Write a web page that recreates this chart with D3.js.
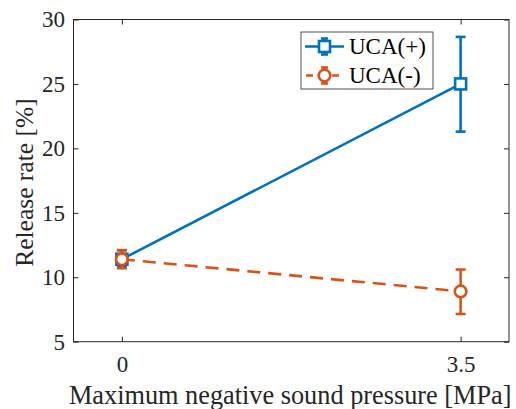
<!DOCTYPE html>
<html><head><meta charset="utf-8">
<script src="https://cdn.jsdelivr.net/npm/d3@7"></script>
<style>body{margin:0;background:#fff}svg{display:block}</style>
</head><body><svg id="c" width="516" height="409"></svg>
<script>
const xValues = [0, 3.5];
const xTickLabels = ["0", "3.5"];
const yTicks = [5, 10, 15, 20, 25, 30];
const seriesNames = ["UCA(+)", "UCA(-)"];
const ucaPlus = [11.4, 25.0];
const ucaPlusLow = [10.8, 21.3];
const ucaPlusHigh = [12.1, 28.65];
const ucaMinus = [11.4, 8.9];
const ucaMinusLow = [10.7, 7.15];
const ucaMinusHigh = [12.1, 10.6];
const xLabel = "Maximum negative sound pressure [MPa]";
const yLabel = "Release rate [%]";

const FONT = '"Liberation Serif", "Times New Roman", "DejaVu Serif", serif';
const svg = d3.select("#c");
const L = 73.5, R = 509, T = 19.5, B = 341.7;
const x = d3.scaleLinear().domain([-0.5, 4]).range([L, R]);
const y = d3.scaleLinear().domain([5, 30]).range([B, T]);
const axisCol = "#262626";
const tickFs = 23, labFs = 26.3, legFs = 23;

// frame
svg.append("rect").attr("x", L).attr("y", T).attr("width", R - L).attr("height", B - T)
  .attr("fill", "none").attr("stroke", axisCol).attr("stroke-width", 1);

// axes with inward ticks
const gx = svg.append("g").attr("transform", `translate(0,${B})`)
  .call(d3.axisBottom(x).tickValues(xValues).tickFormat((d, i) => xTickLabels[i]).tickSizeInner(-5).tickSizeOuter(0).tickPadding(13.5));
const gxt = svg.append("g").attr("transform", `translate(0,${T})`)
  .call(d3.axisTop(x).tickValues(xValues).tickFormat("").tickSizeInner(-5).tickSizeOuter(0));
const gy = svg.append("g").attr("transform", `translate(${L},0)`)
  .call(d3.axisLeft(y).tickValues(yTicks).tickSizeInner(-5).tickSizeOuter(0).tickPadding(8.5));
const gyr = svg.append("g").attr("transform", `translate(${R},0)`)
  .call(d3.axisRight(y).tickValues(yTicks).tickFormat("").tickSizeInner(-5).tickSizeOuter(0));
[gx, gxt, gy, gyr].forEach(g => {
  g.attr("font-family", FONT).attr("font-size", tickFs);
  g.select(".domain").remove();
  g.selectAll("line").attr("stroke", axisCol);
  g.selectAll("text").attr("fill", axisCol).style("font-family", FONT).style("font-size", tickFs + "px");
});

// labels
svg.append("text").attr("x", (L + R) / 2 - 1).attr("y", 404).attr("text-anchor", "middle")
  .style("font-family", FONT).style("font-size", labFs + "px").attr("fill", axisCol).text(xLabel);
svg.append("text").attr("transform", `translate(33,${(T + B) / 2 + 2}) rotate(-90)`).attr("text-anchor", "middle")
  .style("font-family", FONT).style("font-size", "25.5px").attr("fill", axisCol).text(yLabel);

const series = [
  {name: seriesNames[0], v: ucaPlus, lo: ucaPlusLow, hi: ucaPlusHigh, color: "#0072BD", dash: null, marker: "square"},
  {name: seriesNames[1], v: ucaMinus, lo: ucaMinusLow, hi: ucaMinusHigh, color: "#D95319", dash: "13,8", marker: "circle"}
];
const lw = 2.6;
const line = d3.line().x((d, i) => x(xValues[i])).y(d => y(d));

function marker(g, type, cx, cy, color) {
  if (type === "square") {
    g.append("rect").attr("x", cx - 5.5).attr("y", cy - 5.5).attr("width", 11).attr("height", 11)
      .attr("fill", "#fff").attr("stroke", color).attr("stroke-width", lw);
  } else {
    g.append("circle").attr("cx", cx).attr("cy", cy).attr("r", 5.8)
      .attr("fill", "#fff").attr("stroke", color).attr("stroke-width", lw);
  }
}

series.forEach(s => {
  const g = svg.append("g");
  g.append("path").attr("d", line(s.v)).attr("fill", "none").attr("stroke", s.color)
    .attr("stroke-width", lw).attr("stroke-dasharray", s.dash);
  s.v.forEach((v, i) => {
    const cx = x(xValues[i]);
    g.append("line").attr("x1", cx).attr("x2", cx).attr("y1", y(s.lo[i])).attr("y2", y(s.hi[i]))
      .attr("stroke", s.color).attr("stroke-width", lw);
    [s.lo[i], s.hi[i]].forEach(e => g.append("line").attr("x1", cx - 5).attr("x2", cx + 5)
      .attr("y1", y(e)).attr("y2", y(e)).attr("stroke", s.color).attr("stroke-width", lw));
    marker(g, s.marker, cx, y(v), s.color);
  });
});

// legend
const lg = svg.append("g");
lg.append("rect").attr("x", 301).attr("y", 32).attr("width", 132).attr("height", 57)
  .attr("fill", "#fff").attr("stroke", axisCol).attr("stroke-width", 0.8);
series.forEach((s, i) => {
  const ly = 46.5 + i * 29;
  lg.append("line").attr("x1", 305).attr("x2", 344).attr("y1", ly).attr("y2", ly)
    .attr("stroke", s.color).attr("stroke-width", lw).attr("stroke-dasharray", s.dash ? "7,6" : null)
    .attr("stroke-dashoffset", s.dash ? -1 : 0);
  lg.append("line").attr("x1", 324.5).attr("x2", 324.5).attr("y1", ly - 8).attr("y2", ly + 8)
    .attr("stroke", s.color).attr("stroke-width", lw);
  [ly - 8, ly + 8].forEach(e => lg.append("line").attr("x1", 321).attr("x2", 328).attr("y1", e).attr("y2", e)
    .attr("stroke", s.color).attr("stroke-width", lw));
  marker(lg, s.marker, 324.5, ly, s.color);
  lg.append("text").attr("x", 349).attr("y", ly + 7.5).style("font-family", FONT).style("font-size", legFs + "px")
    .attr("fill", "#000").text(s.name);
});
</script></body></html>
